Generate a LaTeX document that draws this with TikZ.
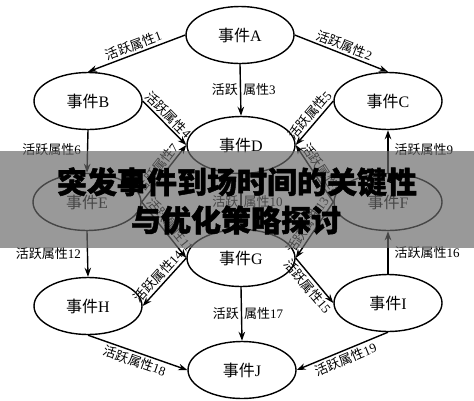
\documentclass[tikz,border=0pt]{standalone}
\usepackage{fontspec}
\setmainfont{Liberation Serif}
\newfontfamily\cjk{Noto Sans CJK SC}
\newfontfamily\cjkt{Noto Sans CJK SC}[BoldFeatures={FakeBold=1.5}]
\usetikzlibrary{shapes.geometric,arrows.meta}
\definecolor{ov}{RGB}{104,104,104}
\newcommand{\evt}[1]{{\cjk 事件}#1}
\newcommand{\hy}[1]{{\cjk 活跃属性}#1}
\begin{document}
\begin{tikzpicture}[x=1pt,y=-1pt,
 ev/.style={draw, ellipse, line width=1.4pt, minimum width=108pt, minimum height=57pt, inner sep=0pt, font=\fontsize{16}{16}\selectfont},
 arr/.style={line width=1.4pt, -{Stealth[length=9pt,width=6.5pt]}},
 lab/.style={font=\fontsize{13}{13}\selectfont, inner sep=2pt},
 ttl/.style={font=\cjkt\bfseries\fontsize{30}{30}\selectfont, inner sep=0pt}
]
\useasboundingbox (0,0) rectangle (474,400);
\node[ev] (A) at (240,35) {\evt{A}};
\node[ev] (B) at (88,101) {\evt{B}};
\node[ev] (C) at (388,101) {\evt{C}};
\node[ev] (D) at (241,145) {\evt{D}};
\node[ev] (E) at (87,202) {\evt{E}};
\node[ev] (F) at (388,202) {\evt{F}};
\node[ev] (G) at (241,258) {\evt{G}};
\node[ev] (H) at (88,306) {\evt{H}};
\node[ev] (I) at (388,303) {\evt{I}};
\node[ev] (J) at (242,370) {\evt{J}};

\draw[arr] (A.west) -- node[lab,sloped,above] {\hy{1}} (B.north);
\draw[arr] (A.east) -- node[lab,sloped,above] {\hy{2}} (C.north);
\draw[arr] (A.south) -- node[lab,left] {\cjk 活跃} node[lab,right] {{\cjk 属性}3} (D.north);
\draw[arr] (B.east) -- node[lab,sloped,above,pos=0.45] {\hy{4}} (D.west);
\draw[arr] (C.west) -- node[lab,sloped,above,pos=0.45] {\hy{5}} (D.east);
\draw[arr] (B.south) -- node[lab,left,xshift=-4pt,pos=0.45] {\hy{6}} (E.north);
\draw[arr] (E.east) -- node[lab,sloped,above] {\hy{7}} (D.west);
\draw[arr] (F.west) -- node[lab,sloped,above] {\hy{8}} (D.east);
\draw[arr] (F.north) -- node[lab,right,xshift=4pt,pos=0.55] {\hy{9}} (C.south);
\draw[arr] (D.south) -- node[lab,left] {\cjk 活跃} node[lab,right] {{\cjk 属性}10} (G.north);
\draw[arr] (E.east) -- node[lab,sloped,above] {\hy{11}} (G.west);
\draw[arr] (E.south) -- node[lab,left,xshift=-4pt] {\hy{12}} (H.north);
\draw[arr] (F.west) -- node[lab,sloped,above] {\hy{13}} (G.east);
\draw[arr] (G.west) -- node[lab,sloped,above] {\hy{14}} (H.east);
\draw[arr] (G.east) -- node[lab,sloped,below] {\hy{15}} (I.west);
\draw[arr] (I.north) -- node[lab,right,xshift=4pt] {\hy{16}} (F.south);
\draw[arr] (G.south) -- node[lab,left] {\cjk 活跃} node[lab,right] {{\cjk 属性}17} (J.north);
\draw[arr] (H.south) -- node[lab,sloped,below] {\hy{18}} (J.west);
\draw[arr] (I.south) -- node[lab,sloped,below] {\hy{19}} (J.east);

\fill[ov, opacity=0.675] (0,151) rectangle (474,248);
\node[ttl] (t1) at (237,182) {突发事件到场时间的关键性};
\node[ttl] (t2) at (236,220) {与优化策略探讨};
\end{tikzpicture}
\end{document}
